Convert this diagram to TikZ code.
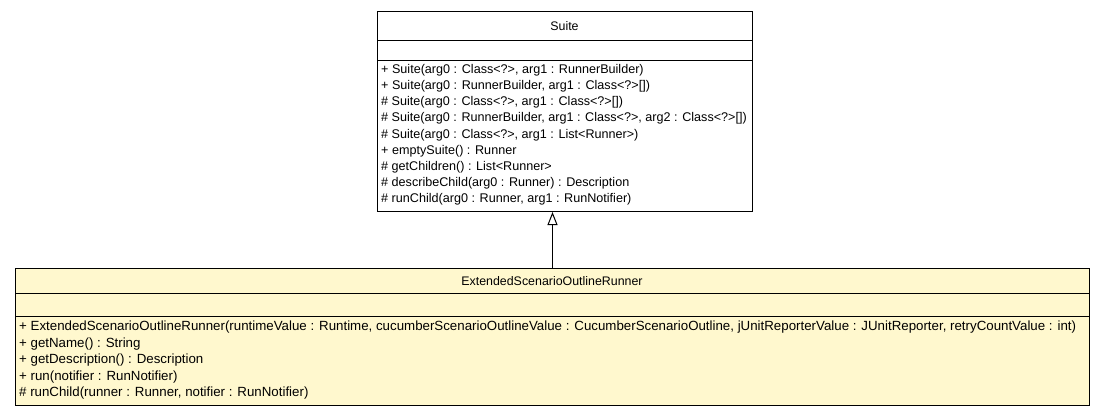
\documentclass[tikz,border=0pt]{standalone}
\usepackage{fontspec}
\setmainfont{Liberation Sans}
\usetikzlibrary{arrows.meta, positioning}

\definecolor{noteyellow}{RGB}{255,248,206}

\begin{document}
\begin{tikzpicture}[x=1pt, y=-1pt,
    classbox/.style={draw, line width=1pt, anchor=north west, inner sep=0pt},
    classname/.style={font=\fontsize{12.4}{14}\selectfont, inner sep=0pt},
    member/.style={anchor=west, font=\fontsize{12.6}{14}\selectfont, inner sep=0pt},
    widemember/.style={member, font=\fontsize{13.3}{15}\selectfont},
    inherit/.style={-{Triangle[open, length=13pt, width=10pt]}, line width=1pt}]
    \useasboundingbox (0,0) rectangle (1104,416);

    % parent class
    \node[classbox, fill=white, minimum width=375pt, minimum height=200pt] (suite) at (377,11) {};
    \node[classname] (suitename) at (564.5,26) {Suite};
    \draw[line width=1pt] (377,40) -- (752,40);
    \draw[line width=1pt] (377,60) -- (752,60);
    \foreach \txt [count=\i] in {
        {+ Suite(arg0 : Class<?>, arg1 : RunnerBuilder)},
        {+ Suite(arg0 : RunnerBuilder, arg1 : Class<?>[])},
        {\# Suite(arg0 : Class<?>, arg1 : Class<?>[])},
        {\# Suite(arg0 : RunnerBuilder, arg1 : Class<?>, arg2 : Class<?>[])},
        {\# Suite(arg0 : Class<?>, arg1 : List<Runner>)},
        {+ emptySuite() : Runner},
        {\# getChildren() : List<Runner>},
        {\# describeChild(arg0 : Runner) : Description},
        {\# runChild(arg0 : Runner, arg1 : RunNotifier)}}
        \node[member] (sm\i) at (381,{54+16.15*\i}) {\txt};

    % child class
    \node[classbox, fill=noteyellow, minimum width=1074pt, minimum height=137pt] (runner) at (15,268) {};
    \node[classname] (runnername) at (552,281) {ExtendedScenarioOutlineRunner};
    \draw[line width=1pt] (15,293) -- (1089,293);
    \draw[line width=1pt] (15,316) -- (1089,316);
    \foreach \txt [count=\i] in {
        {+ ExtendedScenarioOutlineRunner(runtimeValue : Runtime, cucumberScenarioOutlineValue : CucumberScenarioOutline, jUnitReporterValue : JUnitReporter, retryCountValue : int)},
        {+ getName() : String},
        {+ getDescription() : Description},
        {+ run(notifier : RunNotifier)},
        {\# runChild(runner : Runner, notifier : RunNotifier)}}
        \node[widemember] (rm\i) at (19,{311+16.5*\i}) {\txt};

    % generalization
    \draw[inherit] (runner.north) -- (runner.north |- suite.south);
\end{tikzpicture}
\end{document}
